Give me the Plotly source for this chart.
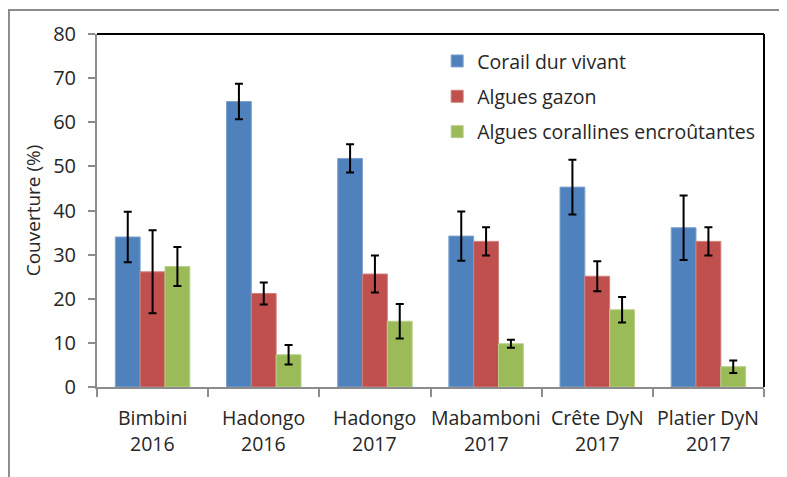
import plotly.graph_objects as go

categories = ["Bimbini", "Hadongo", "Hadongo", "Mabamboni", "Crête DyN", "Platier DyN"]
years = ["2016", "2016", "2017", "2017", "2017", "2017"]
cat_keys = [f"{c} {y}" for c, y in zip(categories, years)]

series_names = ["Corail dur vivant", "Algues gazon", "Algues corallines encroûtantes"]
corail = [34.0, 64.7, 51.8, 34.2, 45.3, 36.1]
corail_err = [5.7, 4.0, 3.2, 5.6, 6.2, 7.3]
gazon = [26.1, 21.2, 25.6, 33.0, 25.1, 33.0]
gazon_err = [9.4, 2.5, 4.2, 3.2, 3.4, 3.2]
encr = [27.3, 7.3, 14.9, 9.8, 17.5, 4.6]
encr_err = [4.4, 2.2, 3.9, 0.9, 2.9, 1.4]

colors = ["#4F81BD", "#C0504D", "#9BBB59"]
edge = ["#7FA3D0", "#D07F7D", "#B7CF8A"]
values = [corail, gazon, encr]
errors = [corail_err, gazon_err, encr_err]

font_family = "'Open Sans', sans-serif"
txt = "#262626"
fs = 19.5

fig = go.Figure()
for i in range(3):
    fig.add_trace(go.Bar(
        name=series_names[i], x=cat_keys, y=values[i],
        marker=dict(color=colors[i], line=dict(color=edge[i], width=1)),
        error_y=dict(type="data", array=errors[i], visible=True,
                     color="black", thickness=2, width=4),
        legendgroup=f"g{i}",
    ))

# page body has an 8px margin: figure is sized so the plot area lands where the reference has it
fig.update_layout(
    width=779, height=469,
    margin=dict(l=89, r=23, t=26, b=90),
    paper_bgcolor="white", plot_bgcolor="white",
    barmode="group", bargap=0.33, bargroupgap=0,
    font=dict(family=font_family, size=fs, color=txt),
    showlegend=True,
    legend=dict(x=0.51, y=0.978, xanchor="left", yanchor="top",
                bgcolor="rgba(0,0,0,0)", tracegroupgap=7,
                font=dict(size=fs, color=txt)),
)

fig.update_xaxes(
    type="category", showticklabels=False,
    tickson="boundaries", ticks="outside", ticklen=8, tickwidth=1.5, tickcolor="#8c8c8c",
    showline=True, linecolor="#8c8c8c", linewidth=2, showgrid=False, zeroline=False,
)
fig.update_yaxes(
    range=[0, 80], dtick=10, ticks="outside", ticklen=7, tickwidth=1.5, tickcolor="#8c8c8c",
    showline=True, linecolor="#8c8c8c", linewidth=2, showgrid=False, zeroline=False,
    ticklabelstandoff=8,
    title=dict(text="Couverture (%)", font=dict(size=fs - 0.5, color=txt), standoff=7),
    tickfont=dict(size=fs + 0.5, color=txt),
)

# x labels (two lines)
for k, c, y in zip(cat_keys, categories, years):
    fig.add_annotation(x=k, y=-0.085, xref="x", yref="paper", text=c, showarrow=False,
                       yanchor="middle", font=dict(size=fs, color=txt))
    fig.add_annotation(x=k, y=-0.159, xref="x", yref="paper", text=y, showarrow=False,
                       yanchor="middle", font=dict(size=fs, color=txt))

# plot-area border (top and right, black)
fig.add_shape(type="line", xref="paper", yref="paper", x0=0, x1=1, y0=1, y1=1,
              line=dict(color="black", width=2))
fig.add_shape(type="line", xref="paper", yref="paper", x0=1, x1=1, y0=0, y1=1,
              line=dict(color="black", width=2))
# outer chart frame (gray)
fig.add_shape(type="rect", xref="paper", yref="paper", x0=-0.132, x1=1.06, y0=-0.3, y1=1.068,
              line=dict(color="#8c8c8c", width=2), layer="below")

fig.write_html("out.html")
